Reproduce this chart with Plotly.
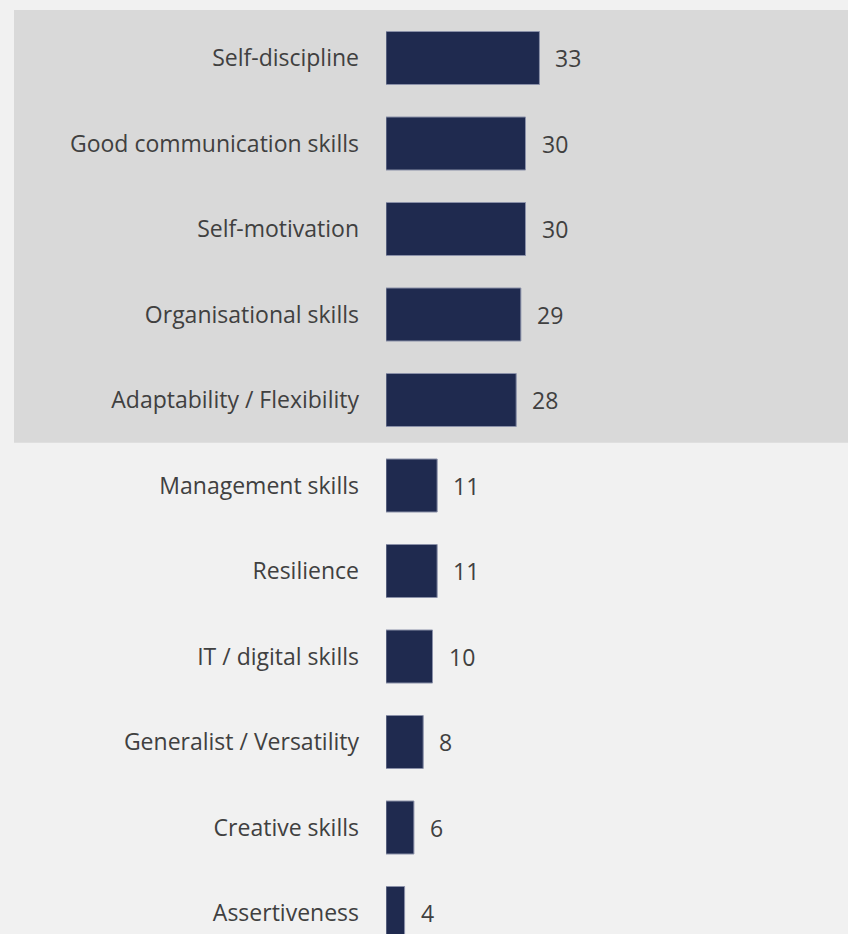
import plotly.graph_objects as go

# Skills ranked by share of respondents
skills = [
    "Self-discipline",
    "Good communication skills",
    "Self-motivation",
    "Organisational skills",
    "Adaptability / Flexibility",
    "Management skills",
    "Resilience",
    "IT / digital skills",
    "Generalist / Versatility",
    "Creative skills",
    "Assertiveness",
]
scores = [33, 30, 30, 29, 28, 11, 11, 10, 8, 6, 4]
top_group = 5  # leading skills shown on a shaded band

W, H = 848, 934
LEFT = 386
PX_PER_UNIT = 4.65
ROW = 85.5
FIRST_ROW_CENTER = 58

bar_color = "#1f2a4f"
text_color = "#404040"
font_family = "'Open Sans', sans-serif"
font_size = 23

y_top = -FIRST_ROW_CENTER / ROW
y_bottom = (H - FIRST_ROW_CENTER) / ROW

fig = go.Figure(
    go.Bar(
        x=scores,
        y=skills,
        orientation="h",
        width=0.62,
        marker=dict(color=bar_color, line=dict(color="#8a90a8", width=1)),
        hoverinfo="x+y",
    )
)

# value labels at the bar ends
for s, v in zip(skills, scores):
    fig.add_annotation(
        x=v, y=s, text=str(v), showarrow=False,
        xanchor="left", xshift=14,
        font=dict(size=font_size, color=text_color, family=font_family),
    )

# shaded band behind the leading group
def paper_y(idx):
    px = FIRST_ROW_CENTER + idx * ROW
    return 1 - px / H

fig.add_shape(
    type="rect", xref="paper", yref="paper", layer="below",
    x0=(14 - LEFT) / (W - LEFT), x1=1,
    y0=paper_y(top_group - 0.5), y1=1 - 10 / H,
    fillcolor="#d9d9d9", line=dict(width=0),
)

fig.update_layout(
    width=W, height=H,
    margin=dict(l=LEFT, r=0, t=0, b=0),
    paper_bgcolor="#f1f1f1",
    plot_bgcolor="rgba(0,0,0,0)",
    showlegend=False,
    bargap=0.38,
    font=dict(family=font_family, size=font_size, color=text_color),
    xaxis=dict(
        range=[0, (W - LEFT) / PX_PER_UNIT],
        visible=False,
        fixedrange=True,
    ),
    yaxis=dict(
        range=[y_bottom, y_top],
        showgrid=False, zeroline=False, showline=False,
        ticks="", ticklabelstandoff=26,
        tickfont=dict(size=font_size, color=text_color, family=font_family),
        fixedrange=True,
    ),
)

fig.write_html("out.html")
